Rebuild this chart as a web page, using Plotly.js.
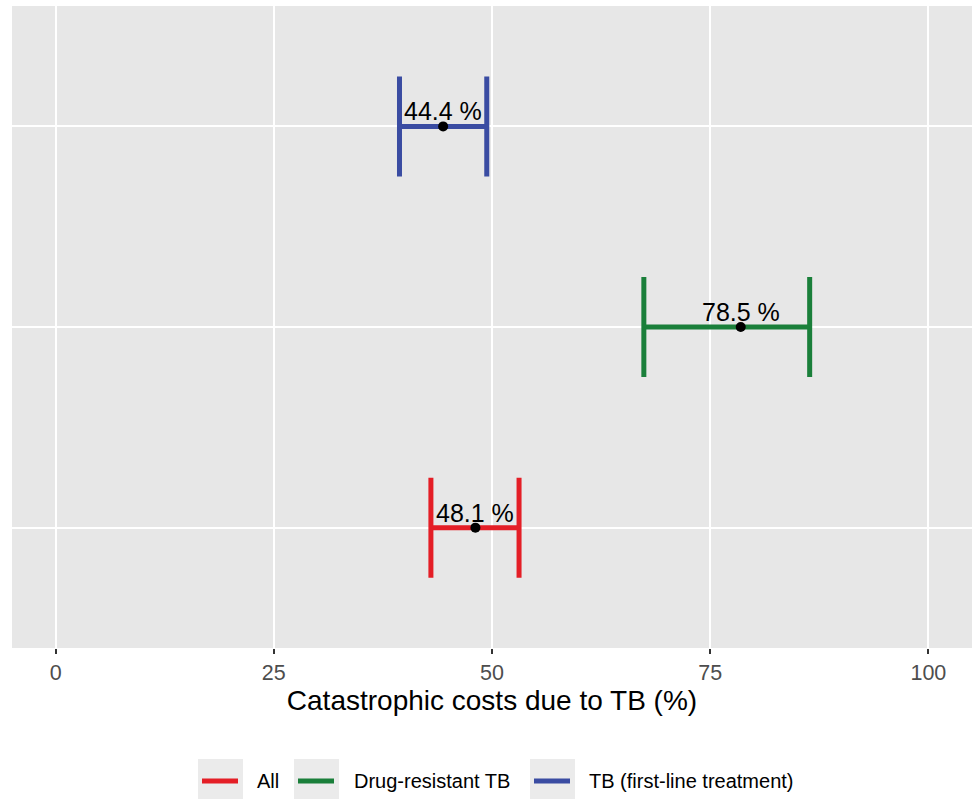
<!DOCTYPE html>
<html>
<head>
<meta charset="utf-8">
<script src="https://cdn.plot.ly/plotly-3.0.1.min.js"></script>
<style>html,body{margin:0;padding:0;background:#fff;}#chart{width:974px;height:799px;}</style>
</head>
<body>
<div id="chart"></div>
<script>
// Data
const groups = ["All", "Drug-resistant TB", "TB (first-line treatment)"];
const estimates = [48.1, 78.5, 44.4];
const lower = [43.0, 67.4, 39.4];
const upper = [53.1, 86.4, 49.4];
const labels = ["48.1 %", "78.5 %", "44.4 %"];
const colors = ["#E41E26", "#1A7F3A", "#3A4CA2"];

// Layout geometry (pixels)
const W = 974, H = 799;
const M = {l: 12, r: 2, t: 6, b: 151};
const PW = W - M.l - M.r, PH = H - M.t - M.b;
const px = x => (x - M.l) / PW;
const py = y => (H - M.b - y) / PH;
const FONT = "Liberation Sans, Arial, sans-serif";

const traces = [];
groups.forEach((g, i) => {
  traces.push({
    type: "scatter",
    mode: "lines",
    name: g,
    x: [estimates[i]],
    y: [g],
    line: {color: colors[i], width: 5},
    error_x: {
      type: "data",
      symmetric: false,
      array: [upper[i] - estimates[i]],
      arrayminus: [estimates[i] - lower[i]],
      color: colors[i],
      thickness: 5,
      width: 50
    },
    showlegend: false,
    hoverinfo: "skip"
  });
});
traces.push({
  type: "scatter",
  mode: "markers",
  x: estimates,
  y: groups,
  marker: {color: "#000", size: 10},
  showlegend: false,
  hoverinfo: "skip"
});

// Point labels
const annotations = estimates.map((v, i) => ({
  x: v, y: groups[i], xref: "x", yref: "y",
  text: labels[i], showarrow: false,
  xanchor: "center", yanchor: "bottom", yshift: 0, borderpad: 0,
  font: {family: FONT, size: 25, color: "#000"}
}));

// Manual ggplot-style legend (key boxes, key lines, text)
const legendBoxX = [198, 294, 530];
const legendTextX = [256, 353, 588];
const keyW = 45, keyTop = 759, keyBottom = 800, keyMid = 781;
const shapes = [];
groups.forEach((g, i) => {
  shapes.push({
    type: "rect", xref: "paper", yref: "paper",
    x0: px(legendBoxX[i]), x1: px(legendBoxX[i] + keyW),
    y0: py(keyBottom), y1: py(keyTop),
    fillcolor: "#EBEBEB", line: {width: 0}
  });
  shapes.push({
    type: "line", xref: "paper", yref: "paper",
    x0: px(legendBoxX[i] + 4), x1: px(legendBoxX[i] + keyW - 5),
    y0: py(keyMid), y1: py(keyMid),
    line: {color: colors[i], width: 5}
  });
  annotations.push({
    xref: "paper", yref: "paper",
    x: px(legendTextX[i]), y: py(keyMid),
    xanchor: "left", yanchor: "middle",
    text: g, showarrow: false, borderpad: 0,
    font: {family: FONT, size: 20, color: "#000"}
  });
});

const layout = {
  width: W,
  height: H,
  margin: M,
  paper_bgcolor: "#FFFFFF",
  plot_bgcolor: "#E7E7E7",
  font: {family: FONT, color: "#000"},
  xaxis: {
    range: [-5, 105],
    tickvals: [0, 25, 50, 75, 100],
    ticktext: ["0", "25", "50", "75", "100"],
    showgrid: true,
    gridcolor: "#FFFFFF",
    gridwidth: 2,
    zeroline: false,
    showline: false,
    ticks: "outside",
    ticklen: 5,
    tickwidth: 2,
    tickcolor: "#333333",
    tickfont: {size: 21.5, color: "#4D4D4D"},
    title: {text: "Catastrophic costs due to TB (%)", font: {size: 28, color: "#000"}, standoff: 6}
  },
  yaxis: {
    type: "category",
    categoryorder: "array",
    categoryarray: groups,
    range: [-0.6, 2.6],
    showticklabels: false,
    showgrid: true,
    gridcolor: "#FFFFFF",
    gridwidth: 2,
    zeroline: false,
    showline: false,
    ticks: ""
  },
  showlegend: false,
  shapes: shapes,
  annotations: annotations
};

Plotly.newPlot("chart", traces, layout, {displayModeBar: false, staticPlot: true});
</script>
</body>
</html>
